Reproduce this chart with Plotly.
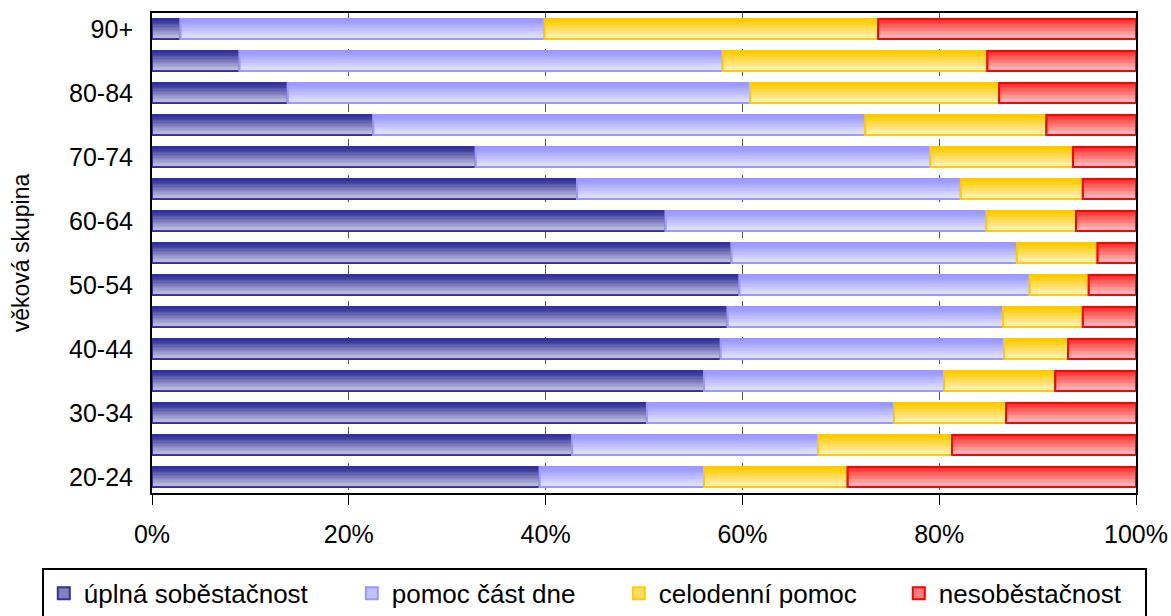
import numpy as np
import plotly.graph_objects as go

categories = ["20-24", "25-29", "30-34", "35-39", "40-44", "45-49", "50-54", "55-59",
              "60-64", "65-69", "70-74", "75-79", "80-84", "85-89", "90+"]
tick_labels = ["20-24", "30-34", "40-44", "50-54", "60-64", "70-74", "80-84", "90+"]

series_names = ["úplná soběstačnost", "pomoc část dne", "celodenní pomoc", "nesoběstačnost"]
uplna = [39.4, 42.7, 50.3, 56.1, 57.8, 58.5, 59.7, 58.9, 52.2, 43.2, 32.9, 22.5, 13.8, 8.9, 2.9]
pomoc_cast = [16.7, 25.0, 25.1, 24.4, 28.8, 28.0, 29.5, 29.0, 32.6, 39.0, 46.2, 50.0, 47.0, 49.1, 37.0]
celodenni = [14.6, 13.6, 11.4, 11.3, 6.5, 8.1, 6.0, 8.2, 9.1, 12.4, 14.5, 18.4, 25.3, 26.9, 33.9]
nesobest = [29.3, 18.7, 13.2, 8.2, 6.9, 5.4, 4.8, 3.9, 6.1, 5.4, 6.4, 9.1, 13.9, 15.1, 26.2]
x_ticks = [0, 20, 40, 60, 80, 100]
x_tick_text = ["0%", "20%", "40%", "60%", "80%", "100%"]

# styles
top_colors = [(51, 51, 153), (153, 153, 255), (255, 204, 0), (255, 50, 50)]
bottom_colors = [(205, 205, 228), (232, 232, 255), (255, 243, 195), (255, 200, 200)]
line_colors = ["#333399", "#9999ff", "#ffcc00", "#ff0000"]
legend_widths = [263, 222, 235, 201]
FONT = "Liberation Sans, Arial, sans-serif"
BAR_W = 0.62
N_BANDS = 14

series = [uplna, pomoc_cast, celodenni, nesobest]
fig = go.Figure()
base = np.zeros(len(categories))
for s, vals in enumerate(series):
    vals = np.array(vals, dtype=float)
    tc, bc = np.array(top_colors[s]), np.array(bottom_colors[s])
    mid = ((tc + bc) / 2).astype(int)
    # legend carrier (underneath)
    fig.add_trace(go.Bar(
        y=categories, x=vals, base=base, orientation="h", width=BAR_W,
        name=series_names[s], legendrank=s + 1, legendwidth=legend_widths[s],
        marker=dict(color="rgb(%d,%d,%d)" % tuple(mid), line=dict(color=line_colors[s], width=2)),
        hoverinfo="skip"))
    step = BAR_W / N_BANDS
    for k in range(N_BANDS):
        t = k / (N_BANDS - 1)  # 0 bottom, 1 top
        c = (bc + (tc - bc) * t).astype(int)
        fig.add_trace(go.Bar(
            y=categories, x=vals, base=base, orientation="h",
            width=step * 1.2, offset=-BAR_W / 2 + k * step - (0.1 * step if k > 0 else 0),
            marker=dict(color="rgb(%d,%d,%d)" % tuple(c), line=dict(width=0)),
            showlegend=False, hoverinfo="skip"))
    fig.add_trace(go.Bar(
        y=categories, x=vals, base=base, orientation="h", width=BAR_W,
        marker=dict(color="rgba(0,0,0,0)", line=dict(color=line_colors[s], width=2)),
        showlegend=False, hovertemplate="%{y}: %{x:.1f}%<extra>" + series_names[s] + "</extra>"))
    base = base + vals

fig.update_layout(
    width=1171, height=616,
    barmode="overlay",
    margin=dict(l=152, r=35, t=13, b=123, autoexpand=False),
    plot_bgcolor="white", paper_bgcolor="white",
    font=dict(family=FONT, size=25, color="black"),
    showlegend=True,
    legend=dict(orientation="h", x=-0.112, xanchor="left",
                y=-0.156, yanchor="top",
                bordercolor="black", borderwidth=2, bgcolor="white",
                font=dict(size=26), traceorder="normal"),
)
fig.update_xaxes(range=[0, 100], tickvals=x_ticks, ticktext=x_tick_text,
                 showgrid=True, gridcolor="#555555", griddash="dash", gridwidth=1,
                 showline=True, linecolor="black", linewidth=2, mirror=True,
                 ticks="outside", ticklen=10, tickcolor="black", tickwidth=1,
                 ticklabelstandoff=8, automargin=False,
                 zeroline=False, tickfont=dict(size=25))
fig.update_yaxes(categoryorder="array", categoryarray=categories,
                 range=[-0.5, len(categories) - 0.5],
                 tickvals=tick_labels, ticktext=tick_labels,
                 showline=True, linecolor="black", linewidth=2, mirror=True,
                 ticks="", ticklabelstandoff=12, showgrid=False, automargin=False,
                 title=dict(text="věková skupina", font=dict(size=23), standoff=33),
                 tickfont=dict(size=25))

fig.write_html("out.html", config={"displayModeBar": False},
               post_script="document.body.style.margin='0';")
